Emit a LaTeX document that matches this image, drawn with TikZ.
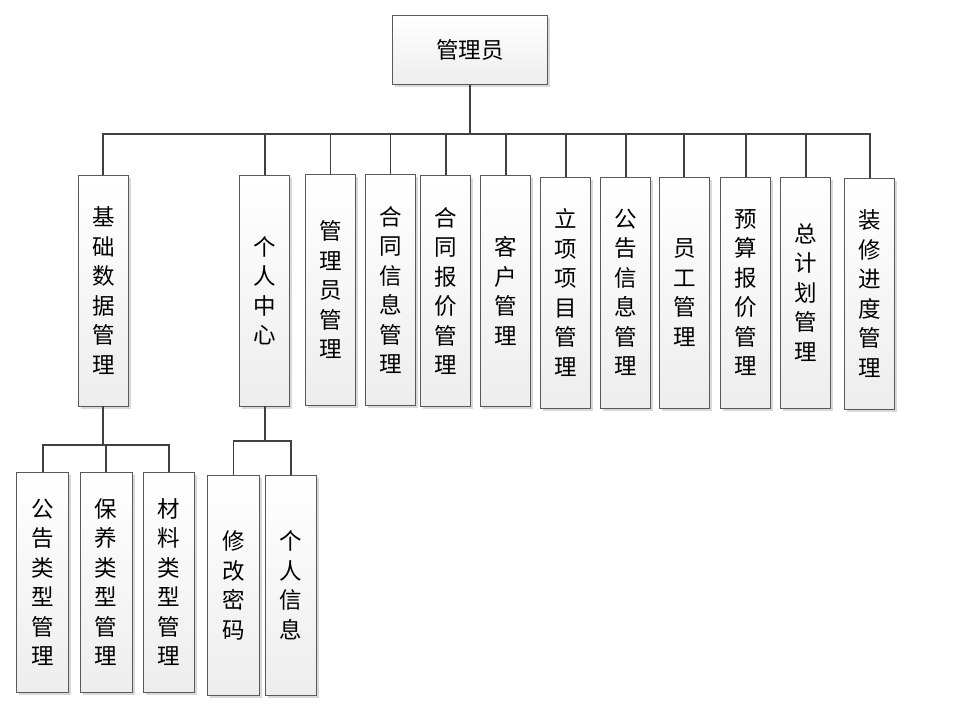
\documentclass[tikz,border=0pt]{standalone}
\usepackage{fontspec}
\newfontfamily\cjk{Noto Sans CJK SC}
\usetikzlibrary{shadows}
\tikzset{
    box/.style={draw=black!65,line width=0.9pt,top color=white,bottom color=black!7,
        drop shadow={shadow xshift=2.5pt,shadow yshift=-2.5pt,fill=black!25,opacity=0.6},
        align=center,inner sep=0pt,font={\cjk\fontsize{22.5}{29.5}\selectfont}},
    colbox/.style={box,minimum width=50pt,minimum height=231pt},
    leafbox/.style={box,minimum width=52pt,minimum height=220pt},
    link/.style={draw=black!75,line width=1.8pt}
}
\begin{document}
\begin{tikzpicture}[x=1pt,y=-1pt]
    \useasboundingbox (0,0) rectangle (961,706);
    % top
    \node[box,minimum width=155pt,minimum height=69pt] (root) at (470,50.3) {管理员};
    % second row
    \node[colbox] (jichu) at (103.3,290.5) {基\\础\\数\\据\\管\\理};
    \node[colbox] (geren) at (264.7,290.5) {个\\人\\中\\心};
    \node[colbox] (gly) at (330.5,290) {管\\理\\员\\管\\理};
    \node[colbox] (htxx) at (390.5,290) {合\\同\\信\\息\\管\\理};
    \node[colbox] (htbj) at (445.9,290.8) {合\\同\\报\\价\\管\\理};
    \node[colbox] (kehu) at (505.7,290.8) {客\\户\\管\\理};
    \node[colbox] (lxxm) at (565.7,292.5) {立\\项\\项\\目\\管\\理};
    \node[colbox] (ggxx) at (625.7,292.5) {公\\告\\信\\息\\管\\理};
    \node[colbox] (yuangong) at (684.3,292.5) {员\\工\\管\\理};
    \node[colbox] (ysbj) at (745.7,292.5) {预\\算\\报\\价\\管\\理};
    \node[colbox] (zjh) at (805.7,292.5) {总\\计\\划\\管\\理};
    \node[colbox] (zxjd) at (869.7,293.5) {装\\修\\进\\度\\管\\理};
    % third row
    \node[leafbox] (gglx) at (42.8,582.3) {公\\告\\类\\型\\管\\理};
    \node[leafbox] (bylx) at (106.2,582.3) {保\\养\\类\\型\\管\\理};
    \node[leafbox,minimum width=51pt] (cllx) at (169.2,582.3) {材\\料\\类\\型\\管\\理};
    \node[leafbox] (xgmm) at (233.5,585.2) {修\\改\\密\\码};
    \node[leafbox,minimum width=51pt] (grxx) at (291,585.2) {个\\人\\信\\息};
    % connectors
    \coordinate (bus) at (0,134);
    \coordinate (busa) at (0,445);
    \coordinate (busb) at (0,441);
    \foreach \n in {jichu,geren,gly,htxx,htbj,kehu,lxxm,ggxx,yuangong,ysbj,zjh,zxjd}{
        \draw[link] (root.south) -- (root.south |- bus) -| (\n.north);
    }
    \foreach \n in {gglx,bylx,cllx}{
        \draw[link] (jichu.south) -- (jichu.south |- busa) -| (\n.north);
    }
    \foreach \n in {xgmm,grxx}{
        \draw[link] (geren.south) -- (geren.south |- busb) -| (\n.north);
    }
\end{tikzpicture}
\end{document}
